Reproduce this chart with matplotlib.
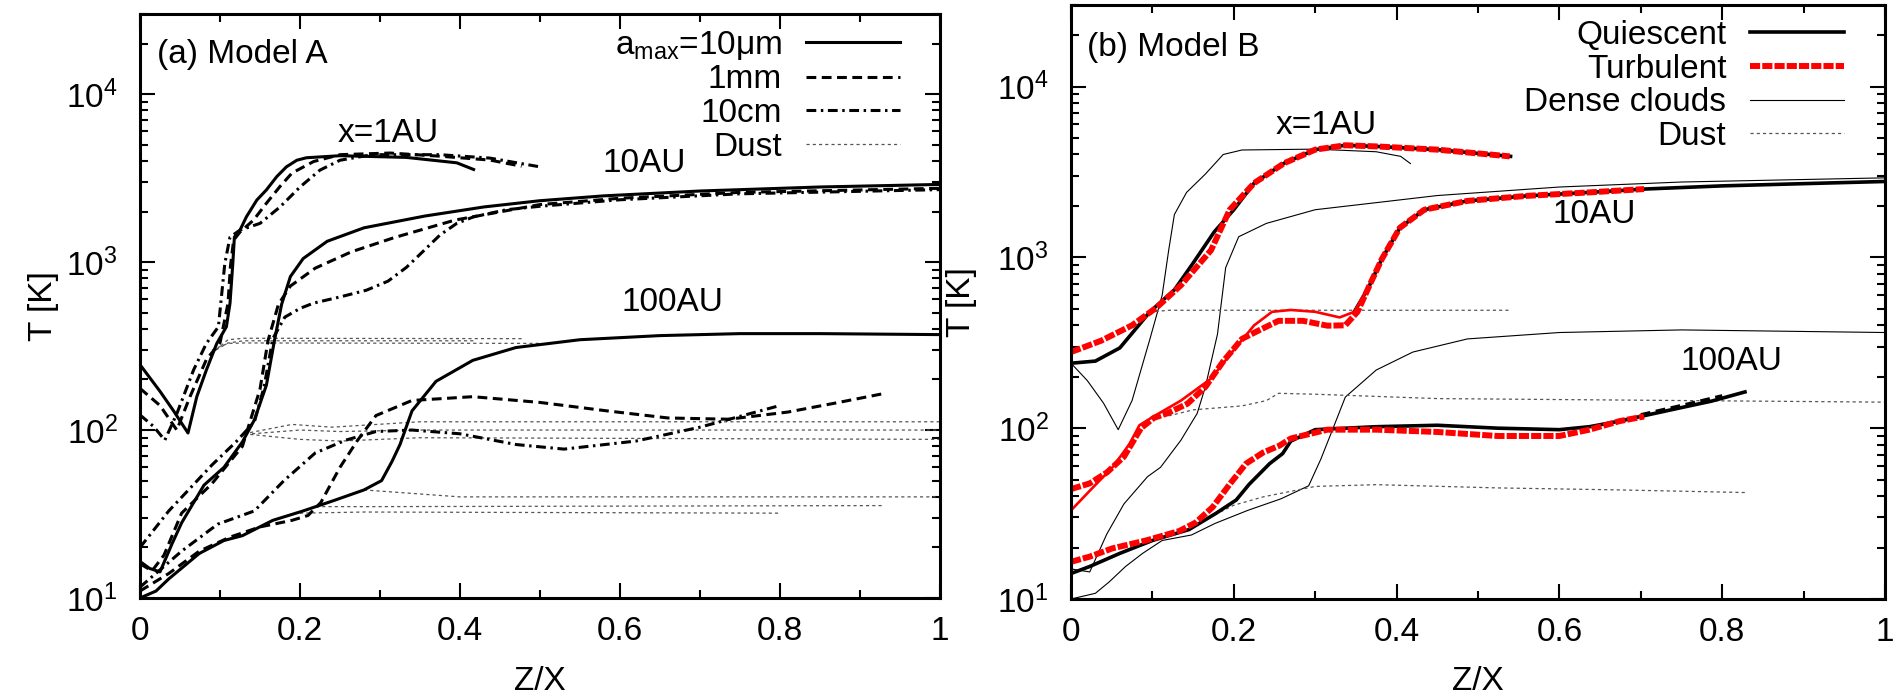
import numpy as np
import matplotlib
matplotlib.use("Agg")
import matplotlib.pyplot as plt
from matplotlib.ticker import FuncFormatter, MultipleLocator

plt.rcParams['font.family'] = ['Liberation Sans', 'DejaVu Sans']
plt.rcParams['mathtext.fontset'] = 'custom'
plt.rcParams['mathtext.rm'] = 'Liberation Sans'
plt.rcParams['mathtext.it'] = 'Liberation Sans:italic'
plt.rcParams['mathtext.bf'] = 'Liberation Sans:bold'
plt.rcParams['font.size'] = 24

# ---------------- (a) Model A : gas temperature for three a_max -------------
# x = 1 AU
a1_10um_z = [0, 0.025, 0.042, 0.06, 0.071, 0.083, 0.096, 0.108, 0.1125, 0.116, 0.118, 0.125, 0.133,
             0.146, 0.158, 0.171, 0.183, 0.196, 0.208, 0.25, 0.333, 0.396, 0.417]
a1_10um_T = [245, 170, 130, 96, 158, 228, 328, 412, 568, 980, 1410, 1550, 1860,
             2340, 2690, 3230, 3690, 4040, 4180, 4300, 4200, 3900, 3560]
a1_1mm_z = [0, 0.025, 0.046, 0.0625, 0.083, 0.1, 0.11, 0.113, 0.117, 0.125, 0.142, 0.158, 0.175,
            0.19, 0.217, 0.25, 0.3125, 0.375, 0.4375, 0.477]
a1_1mm_T = [177, 140, 100, 158, 263, 330, 568, 938, 1350, 1510, 1780, 2240, 2820,
            3390, 3970, 4360, 4460, 4270, 4050, 3720]
a1_10cm_z = [0, 0.017, 0.031, 0.046, 0.067, 0.083, 0.098, 0.106, 0.1125, 0.125, 0.15, 0.175, 0.2,
             0.225, 0.25, 0.29, 0.375, 0.4375, 0.5]
a1_10cm_T = [123, 105, 87, 125, 228, 328, 412, 980, 1410, 1550, 1700, 2130, 2800,
             3530, 4040, 4360, 4360, 4160, 3690]
# x = 10 AU
a10_10um_z = [0, 0.012, 0.025, 0.04, 0.052, 0.08, 0.105, 0.128, 0.143, 0.158, 0.168, 0.177, 0.188,
              0.204, 0.234, 0.28, 0.356, 0.43, 0.5, 0.58, 0.7, 0.85, 1.0]
a10_10um_T = [16.5, 15, 14.3, 21, 28, 47, 60, 85, 115, 185, 340, 560, 820,
              1050, 1330, 1600, 1880, 2130, 2320, 2480, 2650, 2800, 2900]
a10_1mm_z = [0, 0.015, 0.03, 0.052, 0.09, 0.128, 0.15, 0.16, 0.173, 0.188, 0.219, 0.264, 0.318,
             0.394, 0.5, 0.6, 0.75, 1.0]
a10_1mm_T = [16, 14.5, 18, 32, 48, 80, 175, 340, 560, 720, 920, 1150, 1400,
             1780, 2200, 2400, 2600, 2750]
a10_10cm_z = [0, 0.036, 0.09, 0.12, 0.143, 0.155, 0.166, 0.181, 0.2, 0.217, 0.25, 0.283, 0.31,
              0.333, 0.354, 0.375, 0.396, 0.417, 0.458, 0.5, 0.6, 0.75, 1.0]
a10_10cm_T = [20, 33, 62, 85, 112, 180, 350, 470, 530, 570, 620, 680, 770,
              930, 1160, 1450, 1700, 1860, 2050, 2150, 2350, 2550, 2700]
# x = 100 AU
a100_10um_z = [0, 0.02, 0.036, 0.074, 0.105, 0.128, 0.166, 0.204, 0.242, 0.28, 0.302, 0.315, 0.325,
               0.34, 0.37, 0.416, 0.47, 0.55, 0.65, 0.75, 0.85, 1.0]
a100_10um_T = [10, 11, 13, 18.4, 22, 23.5, 29, 33, 38, 44, 50, 65, 82,
               130, 195, 260, 310, 345, 365, 375, 375, 370]
a100_1mm_z = [0, 0.036, 0.074, 0.112, 0.15, 0.19, 0.21, 0.226, 0.25, 0.272, 0.295, 0.34, 0.416,
              0.5, 0.584, 0.66, 0.736, 0.81, 0.87, 0.93]
a100_1mm_T = [11, 14, 19, 23, 26.5, 29, 31, 37, 60, 87, 122, 150, 158,
              146, 130, 118, 116, 128, 145, 165]
a100_10cm_z = [0, 0.052, 0.097, 0.143, 0.18, 0.219, 0.257, 0.295, 0.34, 0.4, 0.47, 0.53, 0.62, 0.7, 0.8]
a100_10cm_T = [11.6, 19, 27.5, 33, 50, 73, 87, 98, 100, 95, 82, 77, 86, 104, 140]
# dust temperatures (Model A)
ad1_10um_z = [0.095, 0.11, 0.13, 0.42]
ad1_10um_T = [300, 330, 340, 340]
ad1_1mm_z = [0.095, 0.11, 0.13, 0.477]
ad1_1mm_T = [300, 345, 352, 350]
ad1_10cm_z = [0.09, 0.11, 0.13, 0.5]
ad1_10cm_T = [300, 328, 330, 328]
ad10_10um_z = [0.14, 0.2, 0.25, 0.35, 1.0]
ad10_10um_T = [95, 100, 98, 100, 100]
ad10_1mm_z = [0.13, 0.19, 0.24, 0.35, 1.0]
ad10_1mm_T = [95, 108, 104, 112, 112]
ad10_10cm_z = [0.13, 0.2, 0.25, 0.35, 1.0]
ad10_10cm_T = [95, 88, 86, 90, 88]
ad100_10um_z = [0.28, 0.4, 1.0]
ad100_10um_T = [44, 40, 40]
ad100_1mm_z = [0.22, 0.3, 0.93]
ad100_1mm_T = [35, 35, 35.5]
ad100_10cm_z = [0.2, 0.28, 0.8]
ad100_10cm_T = [32, 32.5, 32]

# ---------------- (b) Model B ----------------------------------------------
b1_dense_z = [0, 0.02, 0.04, 0.058, 0.075, 0.097, 0.112, 0.12, 0.127, 0.142, 0.165, 0.187, 0.21,
              0.3, 0.375, 0.405, 0.417]
b1_dense_T = [240, 190, 140, 98, 145, 333, 600, 1100, 1780, 2400, 3070, 4000, 4250,
              4300, 4150, 3900, 3540]
b1_quie_z = [0, 0.03, 0.06, 0.097, 0.127, 0.15, 0.176, 0.2, 0.225, 0.262, 0.3, 0.337, 0.375, 0.45, 0.54]
b1_quie_T = [240, 247, 295, 480, 645, 925, 1410, 1900, 2720, 3560, 4270, 4530, 4460, 4270, 3900]
b1_turb_z = [0, 0.037, 0.075, 0.105, 0.135, 0.172, 0.195, 0.225, 0.262, 0.3, 0.337, 0.375, 0.45, 0.539]
b1_turb_T = [279, 325, 400, 508, 686, 1100, 1900, 2720, 3560, 4270, 4530, 4460, 4270, 3900]
b1_dust_z = [0.09, 0.1, 0.12, 0.54]
b1_dust_T = [450, 480, 490, 490]

b10_dense_z = [0, 0.023, 0.044, 0.065, 0.094, 0.11, 0.135, 0.155, 0.165, 0.18, 0.19, 0.206, 0.24,
               0.3, 0.375, 0.45, 0.6, 0.75, 1.0]
b10_dense_T = [15, 14.4, 24, 36, 52, 59, 85, 122, 174, 356, 870, 1320, 1580,
               1900, 2090, 2300, 2580, 2760, 2920]
b10_quie_z = [0, 0.023, 0.051, 0.072, 0.084, 0.1, 0.135, 0.172, 0.202, 0.225, 0.247, 0.27, 0.3,
              0.33, 0.348, 0.36, 0.367, 0.382, 0.404, 0.434, 0.487, 0.56, 0.637, 0.704, 0.8, 0.9, 1.0]
b10_quie_T = [33, 43, 59, 81, 104, 116, 145, 195, 295, 400, 480, 492, 480,
              445, 480, 600, 690, 980, 1490, 1900, 2140, 2290, 2400, 2510, 2620, 2700, 2780]
b10_turb_z = [0, 0.023, 0.044, 0.065, 0.086, 0.102, 0.118, 0.143, 0.165, 0.187, 0.21, 0.232, 0.255,
              0.285, 0.315, 0.337, 0.352, 0.367, 0.382, 0.404, 0.434, 0.487, 0.56, 0.637, 0.704]
b10_turb_T = [44, 47.5, 55, 68, 100, 115, 122, 139, 174, 246, 333, 376, 425,
              425, 398, 400, 480, 690, 980, 1490, 1900, 2140, 2290, 2400, 2510]
b10_dust_z = [0.12, 0.15, 0.21, 0.24, 0.255, 0.3, 0.45, 1.0]
b10_dust_T = [118, 128, 135, 145, 160, 158, 149, 142]

b100_dense_z = [0, 0.03, 0.047, 0.067, 0.088, 0.112, 0.148, 0.177, 0.217, 0.258, 0.292, 0.307, 0.322,
                0.337, 0.375, 0.42, 0.487, 0.6, 0.75, 1.0]
b100_dense_T = [10, 10.8, 12.6, 15.5, 18.5, 22, 23.7, 27.7, 33, 38.6, 46, 66, 100,
                152, 219, 279, 333, 363, 376, 363]
b100_quie_z = [0, 0.023, 0.06, 0.1, 0.145, 0.178, 0.203, 0.219, 0.244, 0.26, 0.27, 0.3, 0.375,
               0.45, 0.524, 0.6, 0.637, 0.674, 0.71, 0.75, 0.787, 0.828]
b100_quie_T = [14.1, 15.5, 18.5, 22, 25.5, 31.7, 38, 47, 62, 71, 84, 98, 102,
               104, 100, 98, 102, 110, 120, 132, 144, 163]
b100_turb_z = [0, 0.023, 0.051, 0.092, 0.133, 0.153, 0.174, 0.195, 0.215, 0.236, 0.256, 0.27, 0.315,
               0.375, 0.45, 0.524, 0.6, 0.637, 0.674, 0.704]
b100_turb_T = [16.5, 17.7, 19.8, 22, 25, 28, 34.5, 47, 62, 72, 79, 87, 98,
               98, 95, 90, 90, 98, 110, 117]
b100_tail_z = [0.70, 0.75, 0.80]
b100_tail_T = [120, 136, 155]
b100_dust_z = [0.17, 0.2, 0.236, 0.3, 0.375, 0.524, 0.674, 0.828]
b100_dust_T = [30, 35.4, 39.6, 45.6, 46.7, 44.7, 43.5, 42]

xticks = [0, 0.2, 0.4, 0.6, 0.8, 1.0]

# ---------------- styles ---------------------------------------------------
s_solid = dict(color='k', lw=2.2, ls='-')
s_dash = dict(color='k', lw=2.2, ls=(0, (3.2, 1.8)))
s_dashdot = dict(color='k', lw=2.2, ls=(0, (3.2, 1.5, 0.8, 1.5)))
s_dust = dict(color='#555555', lw=0.9, ls=(0, (2.5, 2.5)))
s_quie = dict(color='k', lw=2.6, ls='-')
s_turb = dict(color='#ff0000', lw=4.3, ls=(0, (1.7, 0.35)), dash_capstyle='butt')
s_dense = dict(color='k', lw=0.8, ls='-')
s_red_thin = dict(color='#ff0000', lw=1.9, ls='-')

fig = plt.figure(figsize=(19.04, 6.99), dpi=100)
axA = fig.add_axes([140 / 1904, 101 / 699, 800 / 1904, 584 / 699])
axB = fig.add_axes([1071 / 1904, 100 / 699, 814 / 1904, 594 / 699])

# panel (a)
for z, T in [(ad1_10um_z, ad1_10um_T), (ad1_1mm_z, ad1_1mm_T), (ad1_10cm_z, ad1_10cm_T),
             (ad10_10um_z, ad10_10um_T), (ad10_1mm_z, ad10_1mm_T), (ad10_10cm_z, ad10_10cm_T),
             (ad100_10um_z, ad100_10um_T), (ad100_1mm_z, ad100_1mm_T), (ad100_10cm_z, ad100_10cm_T)]:
    axA.plot(z, T, **s_dust)
axA.plot(a1_10um_z, a1_10um_T, **s_solid, label=r'$\mathrm{a_{max}}$=10μm')
axA.plot(a10_10um_z, a10_10um_T, **s_solid)
axA.plot(a100_10um_z, a100_10um_T, **s_solid)
axA.plot(a1_1mm_z, a1_1mm_T, **s_dash, label='1mm')
axA.plot(a10_1mm_z, a10_1mm_T, **s_dash)
axA.plot(a100_1mm_z, a100_1mm_T, **s_dash)
axA.plot(a1_10cm_z, a1_10cm_T, **s_dashdot, label='10cm')
axA.plot(a10_10cm_z, a10_10cm_T, **s_dashdot)
axA.plot(a100_10cm_z, a100_10cm_T, **s_dashdot)
axA.plot([], [], **s_dust, label='Dust')

axA.text(0.31, 5860, 'x=1AU', ha='center', va='center')
axA.text(0.63, 3880, '10AU', ha='center', va='center')
axA.text(0.665, 578, '100AU', ha='center', va='center')
axA.text(0.021, 0.93, '(a) Model A', transform=axA.transAxes, ha='left', va='center')

# panel (b)
for z, T in [(b1_dense_z, b1_dense_T), (b10_dense_z, b10_dense_T), (b100_dense_z, b100_dense_T)]:
    axB.plot(z, T, **s_dense)
for z, T in [(b1_dust_z, b1_dust_T), (b10_dust_z, b10_dust_T), (b100_dust_z, b100_dust_T)]:
    axB.plot(z, T, **s_dust)
b10q_z = np.array(b10_quie_z)
b10q_T = np.array(b10_quie_T)
axB.plot(b1_quie_z, b1_quie_T, **s_quie)
axB.plot(b10q_z[b10q_z >= 0.348], b10q_T[b10q_z >= 0.348], **s_quie)
axB.plot(b100_quie_z, b100_quie_T, **s_quie)
axB.plot(b100_tail_z, b100_tail_T, color='k', lw=2.2, ls=(0, (3.2, 1.8)))
axB.plot(b10q_z[b10q_z <= 0.36], b10q_T[b10q_z <= 0.36], **s_red_thin)
axB.plot(b1_turb_z, b1_turb_T, **s_turb)
axB.plot(b10_turb_z, b10_turb_T, **s_turb)
axB.plot(b100_turb_z, b100_turb_T, **s_turb)
axB.plot([], [], **s_quie, label='Quiescent')
axB.plot([], [], **s_turb, label='Turbulent')
axB.plot([], [], **s_dense, label='Dense clouds')
axB.plot([], [], **s_dust, label='Dust')

axB.text(0.313, 5920, 'x=1AU', ha='center', va='center')
axB.text(0.6425, 1780, '10AU', ha='center', va='center')
axB.text(0.811, 247, '100AU', ha='center', va='center')
axB.text(0.02, 0.929, '(b) Model B', transform=axB.transAxes, ha='left', va='center')

for ax in (axA, axB):
    ax.set_yscale('log')
    ax.set_xlim(0, 1)
    ax.set_ylim(10, 3e4)
    ax.set_xticks(xticks)
    ax.xaxis.set_minor_locator(MultipleLocator(0.1))
    ax.xaxis.set_major_formatter(FuncFormatter(lambda v, p: f'{v:g}'))
    ax.tick_params(which='both', direction='in', top=True, right=True, width=1.5)
    ax.tick_params(which='major', length=11)
    ax.tick_params(which='minor', length=5.5)
    ax.tick_params(axis='x', pad=13)
    ax.tick_params(axis='y', pad=16)
    for sp in ax.spines.values():
        sp.set_linewidth(2.2)
    ax.set_xlabel('Z/X')
    ax.set_ylabel('T [K]')
    ax.legend(loc='upper right', markerfirst=False, frameon=False, handlelength=2.82,
              handletextpad=0.72, labelspacing=0.08, borderaxespad=0, borderpad=0,
              bbox_to_anchor=(0.95, 0.975))

axA.xaxis.set_label_coords(0.5, -0.1164)
axB.xaxis.set_label_coords(0.5, -0.1128)
axA.yaxis.set_label_coords(-0.101, 0.5)
axB.yaxis.set_label_coords(-0.1155, 0.5)

fig.savefig('out.png', dpi=100)
